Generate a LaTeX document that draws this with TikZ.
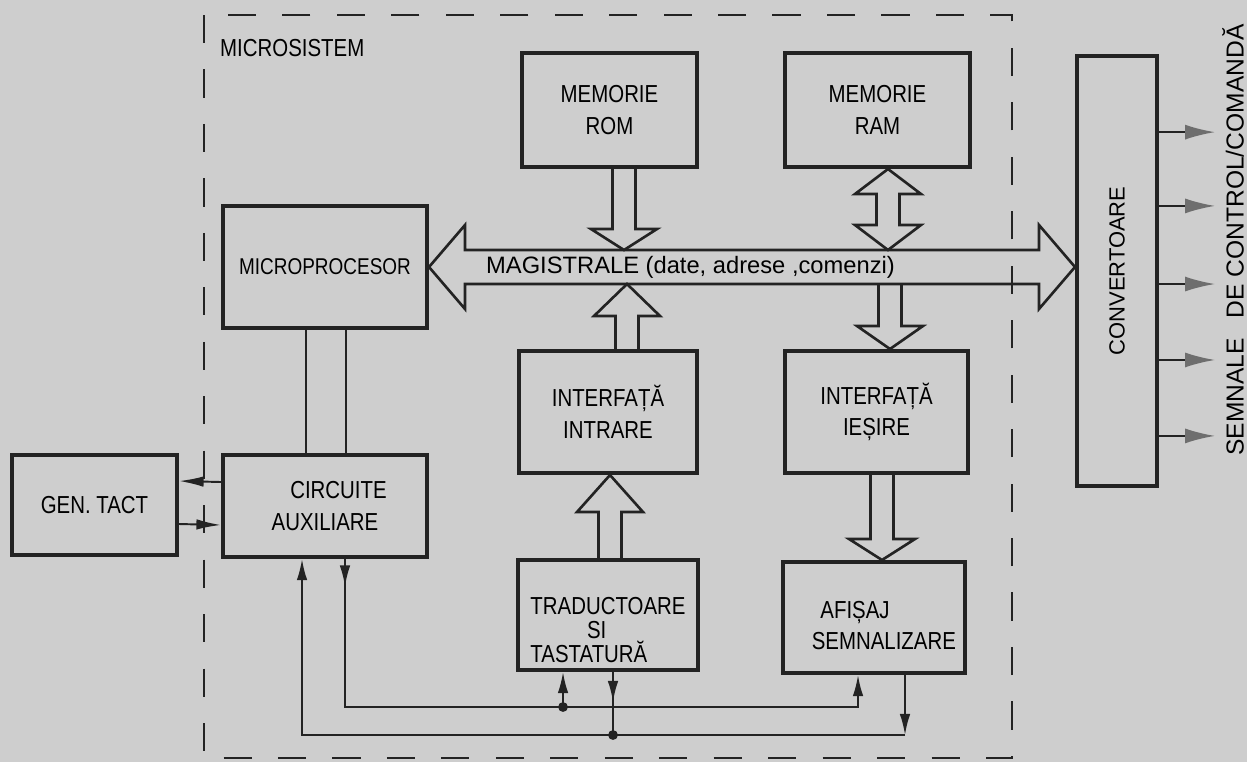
\documentclass[tikz,border=0pt]{standalone}
\usepackage{fontspec}
\setmainfont{Liberation Sans}[FakeStretch=0.83]
\newfontfamily\breitschrift{Liberation Sans}
\usetikzlibrary{calc, arrows.meta, decorations.markings}

\definecolor{papier}{RGB}{206,206,206}
\definecolor{tinte}{RGB}{35,35,35}
\definecolor{spitze}{RGB}{110,110,110}

\tikzset{
  block/.style={draw=tinte, line width=2.3pt, align=center, inner sep=0pt,
    font=\fontsize{14}{18}\selectfont},
  blocklinie/.style={draw=tinte, line width=1.5pt, line join=miter},
  link/.style={draw=tinte, line width=1.1pt},
  rahmen/.style={draw=tinte, line width=1.3pt, dash pattern=on 16pt off 15pt},
  sig/.style={draw=tinte, line width=1.1pt, -{Latex[length=17pt,width=8.5pt,color=spitze]}},
  kleinpfeil/.style={-{Latex[length=12pt,width=6pt]}},
  midpfeil/.style={postaction={decorate}, decoration={markings,
    mark=at position #1 with {\arrow{Latex[length=12pt,width=6pt]}}}},
}

% Breite Pfeile (Schaft, Kopf)
\newcommand{\schaft}{0.23cm}
\newcommand{\kopf}{0.66cm}
\newcommand{\blockpfeil}[3]{%
  \draw[blocklinie] let \p1=(#1), \p2=(#2), \n1={sign(\y2-\y1)}, \n2={\y2-\n1*#3} in
    (\x1-\schaft,\y1) -- (\x1-\schaft,\n2) -- (\x1-\kopf,\n2)
    -- (\x1,\y2) -- (\x1+\kopf,\n2) -- (\x1+\schaft,\n2)
    -- (\x1+\schaft,\y1);}
\newcommand{\doppelpfeil}[3]{%
  \draw[blocklinie] let \p1=(#1), \p2=(#2), \n1={sign(\y2-\y1)},
      \n2={\y1+\n1*#3}, \n3={\y2-\n1*#3} in
    (\x1,\y1) -- (\x1+\kopf,\n2) -- (\x1+\schaft,\n2)
    -- (\x1+\schaft,\n3) -- (\x1+\kopf,\n3) -- (\x1,\y2)
    -- (\x1-\kopf,\n3) -- (\x1-\schaft,\n3)
    -- (\x1-\schaft,\n2) -- (\x1-\kopf,\n2) -- cycle;}

\begin{document}
\begin{tikzpicture}[x=0.02cm, y=-0.02cm]

    % 1. Hintergrund und Rahmen des Mikrosystems
    \fill[papier] (0,0) rectangle (1247,762);
    \useasboundingbox (0,0) rectangle (1247,762);
    \draw[rahmen] (204,15) rectangle (1012,758);
    \node[anchor=west, font=\fontsize{14}{16}\selectfont] (ms) at (214,48) {MICROSISTEM};

    % 2. Bloecke
    \node[block, minimum width=3.5cm, minimum height=2.28cm] (rom) at (609.5,110) {MEMORIE\\ROM};
    \node[block, minimum width=3.7cm, minimum height=2.28cm] (ram) at (877.5,110) {MEMORIE\\RAM};
    \node[block, minimum width=4.08cm, minimum height=2.44cm, font=\fontsize{13}{16}\selectfont]
        (mp) at (325,267) {MICROPROCESOR};
    \node[block, minimum width=4.08cm, minimum height=2.04cm] (ca) at (325,506) {\hspace*{1.1em}CIRCUITE\\AUXILIARE};
    \node[block, minimum width=3.3cm, minimum height=2cm] (gen) at (94.5,505) {GEN. TACT};
    \node[block, minimum width=3.56cm, minimum height=2.44cm] (intr) at (608,412) {INTERFAȚĂ\\INTRARE};
    \node[block, minimum width=3.66cm, minimum height=2.44cm] (ies) at (876.5,412) {INTERFAȚĂ\\IEȘIRE};
    \node[block, minimum width=3.6cm, minimum height=2.2cm, align=left,
        font=\fontsize{14}{13.7}\selectfont]
        (trad) at (608,615) {\rule{0pt}{27pt}TRADUCTOARE\\\hspace*{2.3em}SI\\TASTATURĂ};
    \node[block, minimum width=3.64cm, minimum height=2.22cm, align=left]
        (afis) at (874,617.5) {\rule{0pt}{19pt}\hspace*{0.35em}AFIȘAJ\\SEMNALIZARE\hspace*{-0.8em}};
    \node[block, minimum width=1.6cm, minimum height=8.6cm,
        label={[rotate=90, font=\breitschrift\fontsize{12.5}{15}\selectfont]center:CONVERTOARE}]
        (conv) at (1117,271) {};

    % 3. Magistrale (Doppelpfeil)
    \coordinate (busO) at ([yshift=0.34cm]mp.east);
    \coordinate (busU) at ([yshift=-0.34cm]mp.east);
    \draw[blocklinie] let \p1=(mp.east), \p2=(conv.west |- mp.east) in
        (\x1,\y1) -- (\x1+0.72cm,\y1+0.84cm) -- (\x1+0.72cm,\y1+0.34cm)
        -- (\x2-0.72cm,\y1+0.34cm) -- (\x2-0.72cm,\y1+0.84cm) -- (\x2,\y1)
        -- (\x2-0.72cm,\y1-0.84cm) -- (\x2-0.72cm,\y1-0.34cm)
        -- (\x1+0.72cm,\y1-0.34cm) -- (\x1+0.72cm,\y1-0.84cm) -- cycle;
    \node[anchor=west, font=\breitschrift\fontsize{13.5}{15}\selectfont] (bus) at (480,267)
        {MAGISTRALE (date, adrese ,comenzi)};

    % 4. Breite Pfeile zwischen Bloecken und Magistrale
    \coordinate (romP) at ([xshift=0.29cm]rom.south);
    \blockpfeil{romP}{romP |- busO}{0.42cm}
    \coordinate (ramP) at ([xshift=0.21cm]ram.south);
    \doppelpfeil{ramP}{ramP |- busO}{0.5cm}
    \coordinate (intrP) at ([xshift=0.38cm]intr.north);
    \blockpfeil{intrP}{intrP |- busU}{0.64cm}
    \coordinate (iesP) at ([xshift=0.27cm]ies.north);
    \blockpfeil{iesP |- busU}{iesP}{0.46cm}
    \coordinate (tradP) at ([xshift=0.04cm]trad.north);
    \blockpfeil{tradP}{tradP |- intr.south}{0.74cm}
    \coordinate (afisP) at ([xshift=0.11cm]ies.south);
    \blockpfeil{afisP}{afisP |- afis.north}{0.42cm}

    % 5. Verbindungen Mikroprozessor, Taktgenerator
    \draw[link] ([xshift=-0.38cm]mp.south) -- ([xshift=-0.38cm]ca.north);
    \draw[link] ([xshift=0.42cm]mp.south) -- ([xshift=0.42cm]ca.north);
    \draw[link, -{Latex[length=14pt,width=6pt]}] ([yshift=0.48cm]ca.west) -- ([yshift=0.48cm]gen.east);
    \draw[link, -{Latex[length=14pt,width=6pt]}] ([yshift=-0.38cm]gen.east) -- ([yshift=-0.38cm]ca.west);

    % 6. Leitungen unten (Circuite auxiliare, Traductoare, Afisaj)
    \coordinate (railO) at (0,707);
    \coordinate (railU) at (0,735);
    \coordinate (caO) at ([xshift=-0.46cm]ca.south);
    \coordinate (caN) at ([xshift=0.4cm]ca.south);
    \coordinate (tradO) at ([xshift=-0.9cm]trad.south);
    \coordinate (tradN) at ([xshift=0.1cm]trad.south);
    \coordinate (afisO) at ([xshift=-0.32cm]afis.south);
    \coordinate (afisN) at ([xshift=0.62cm]afis.south);

    \draw[link, kleinpfeil, midpfeil=0.55cm] (caN) -- (caN |- railO) -- (afisO |- railO) -- (afisO);
    \draw[link, kleinpfeil] (tradO |- railO) -- (tradO);
    \fill[tinte] (tradO |- railO) circle (2.8pt);

    \draw[link, midpfeil=0.6cm] (tradN) -- (tradN |- railU);
    \fill[tinte] (tradN |- railU) circle (2.8pt);
    \draw[link, kleinpfeil] (afisN) -- (afisN |- railU);
    \draw[link, kleinpfeil] (afisN |- railU) -- (caO |- railU) -- (caO);

    % 7. Ausgangssignale der Convertoare
    \foreach \f in {0.18,0.35,0.53,0.705,0.88}
        \draw[sig] ($(conv.north east)!\f!(conv.south east)$) -- ++(56,0);
    \node[rotate=90, font=\breitschrift\fontsize{14}{16}\selectfont] (semnale) at (1233,240)
        {SEMNALE\hspace{0.8em}DE CONTROL/COMANDĂ};

\end{tikzpicture}
\end{document}
